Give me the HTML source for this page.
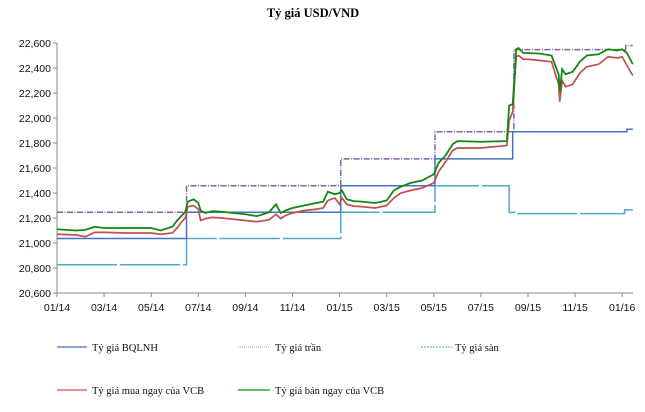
<!DOCTYPE html>
<html><head><meta charset="utf-8"><style>
body{margin:0;background:#fff}
svg{display:block}
.ax{font-family:"Liberation Sans",sans-serif;font-size:10.5px;fill:#111}
.lg{font-family:"Liberation Serif",serif;font-size:10.5px;fill:#111}
</style></head><body>
<svg id="c" width="645" height="412" xmlns="http://www.w3.org/2000/svg">
<text x="313" y="17" text-anchor="middle" font-family="Liberation Serif,serif" font-weight="bold" font-size="12.5">Tỷ giá USD/VND</text>
<g id="plot"></g>
<g>
<line x1="57" y1="347" x2="87" y2="347" stroke="#4472c4" stroke-width="1.2"/>
<text class="lg" x="92" y="351">Tỷ giá BQLNH</text>
<line x1="238" y1="347" x2="270" y2="347" stroke="#a79bc8" stroke-width="1" stroke-dasharray="1,1"/>
<text class="lg" x="275" y="351">Tỷ giá trần</text>
<line x1="421" y1="347" x2="452" y2="347" stroke="#4bacc6" stroke-width="1" stroke-dasharray="2,1"/>
<text class="lg" x="455" y="351">Tỷ giá sàn</text>
<line x1="57" y1="390" x2="87" y2="390" stroke="#e07070" stroke-width="1.5"/>
<text class="lg" x="92" y="394">Tỷ giá mua ngay của VCB</text>
<line x1="238" y1="390" x2="270" y2="390" stroke="#3aa03a" stroke-width="1.5"/>
<text class="lg" x="275" y="394">Tỷ giá bán ngay của VCB</text>
</g>
</svg>
<script>
const yTicks=[20600,20800,21000,21200,21400,21600,21800,22000,22200,22400,22600];
const xTickLabels=["01/14","03/14","05/14","07/14","09/14","11/14","01/15","03/15","05/15","07/15","09/15","11/15","01/16"];
const xTickMonths=[0,2,4,6,8,10,12,14,16,18,20,22,24];
// step series: [month, value]
const bqlnhT=[0,5.5,12.05,16.05,19.35,24.2,24.45];
const bqlnhV=[21036,21246,21458,21673,21890,21910,21910];
const ceilT=[0,5.5,12.05,16.05,19.4,24.15,24.45];
const ceilV=[21246,21458,21673,21890,22547,22580,22580];
const floorT=[0,5.5,12.05,16.05,19.2,19.45,24.1,24.45];
const floorV=[20826,21036,21246,21458,21245,21235,21265,21265];
const sellT=[0,0.8,1.2,1.6,2,3,4,4.4,4.9,5.1,5.3,5.45,5.55,5.8,6.0,6.1,6.3,6.6,7,8,8.5,9,9.3,9.5,9.7,10,10.5,11,11.3,11.5,11.8,12,12.1,12.3,12.6,13,13.5,14,14.3,14.6,15,15.5,16,16.2,16.5,16.8,17,18,19.1,19.2,19.35,19.5,19.6,19.8,20,20.5,21,21.3,21.35,21.45,21.6,21.9,22.2,22.5,23,23.4,23.8,24,24.2,24.45];
const sellV=[21110,21100,21105,21130,21120,21120,21120,21100,21130,21180,21220,21250,21330,21350,21320,21260,21240,21255,21250,21230,21215,21245,21310,21240,21260,21280,21300,21320,21330,21410,21390,21400,21420,21350,21335,21330,21320,21340,21420,21450,21480,21500,21550,21640,21700,21790,21815,21810,21815,22100,22110,22550,22560,22520,22520,22515,22500,22350,22210,22390,22350,22370,22450,22500,22510,22550,22540,22550,22520,22430];
const buyT=[0,0.8,1.2,1.6,2,3,4,4.4,4.9,5.1,5.3,5.45,5.55,5.8,6.0,6.1,6.3,6.6,7,8,8.5,9,9.3,9.5,9.7,10,10.5,11,11.3,11.5,11.8,12,12.1,12.3,12.6,13,13.5,14,14.3,14.6,15,15.5,16,16.2,16.5,16.8,17,18,19.1,19.2,19.35,19.5,19.6,19.8,20,20.5,21,21.3,21.35,21.45,21.6,21.9,22.2,22.5,23,23.4,23.8,24,24.2,24.45];
const buyV=[21070,21065,21050,21085,21085,21080,21080,21070,21080,21120,21170,21200,21290,21300,21270,21180,21195,21205,21200,21180,21170,21185,21230,21195,21220,21240,21260,21270,21280,21340,21360,21310,21360,21310,21295,21290,21280,21300,21360,21400,21420,21440,21480,21570,21650,21740,21760,21760,21780,21980,22050,22490,22500,22470,22470,22460,22450,22270,22130,22300,22250,22270,22360,22410,22430,22490,22480,22490,22420,22340];

const X0=57,PX=23.55,Y0=293,PY=0.125;
const x=m=>X0+m*PX, y=v=>Y0-(v-20600)*PY;
const NS="http://www.w3.org/2000/svg";
const g=document.getElementById('plot');
function mk(t,a){const e=document.createElementNS(NS,t);for(const k in a)e.setAttribute(k,a[k]);g.appendChild(e);return e;}
// axes
let ya=mk('line',{x1:x(0),y1:y(22600),x2:x(0),y2:Y0,stroke:'#888'});

let xa=mk('line',{x1:x(0),y1:Y0,x2:633,y2:Y0,stroke:'#888'});

yTicks.forEach(v=>{
  mk('line',{x1:x(0)-4,y1:y(v),x2:x(0),y2:y(v),stroke:'#888'});
  const t=mk('text',{class:'ax',x:x(0)-6,y:y(v)+4,'text-anchor':'end'});t.textContent=v.toLocaleString('en-US');
  
});
xTickMonths.forEach((m,i)=>{
  mk('line',{x1:x(m),y1:Y0,x2:x(m),y2:Y0+4,stroke:'#888'});
  const t=mk('text',{class:'ax',x:x(m),y:Y0+18,'text-anchor':'middle'});t.textContent=xTickLabels[i];
  
});
function step(T,V){let d='M'+x(T[0])+','+y(V[0]);for(let i=1;i<T.length;i++){d+=' L'+x(T[i])+','+y(V[i-1])+' L'+x(T[i])+','+y(V[i]);}return d;}
function poly(T,V){return 'M'+T.map((t,i)=>x(t)+','+y(V[i])).join(' L');}
let p;
p=mk('path',{d:step(floorT,floorV),fill:'none',stroke:'#4bacc6','stroke-width':1.5,'stroke-dasharray':'60,3'});

p=mk('path',{d:step(ceilT,ceilV),fill:'none',stroke:'#8064a2','stroke-width':1.5,'stroke-dasharray':'6,1.5,1,1.5'});

p=mk('path',{d:step(bqlnhT,bqlnhV),fill:'none',stroke:'#4472c4','stroke-width':1.5});

p=mk('path',{d:poly(buyT,buyV),fill:'none',stroke:'#c0504d','stroke-width':1.7});

p=mk('path',{d:poly(sellT,sellV),fill:'none',stroke:'#118811','stroke-width':1.8});

</script>
</body></html>
